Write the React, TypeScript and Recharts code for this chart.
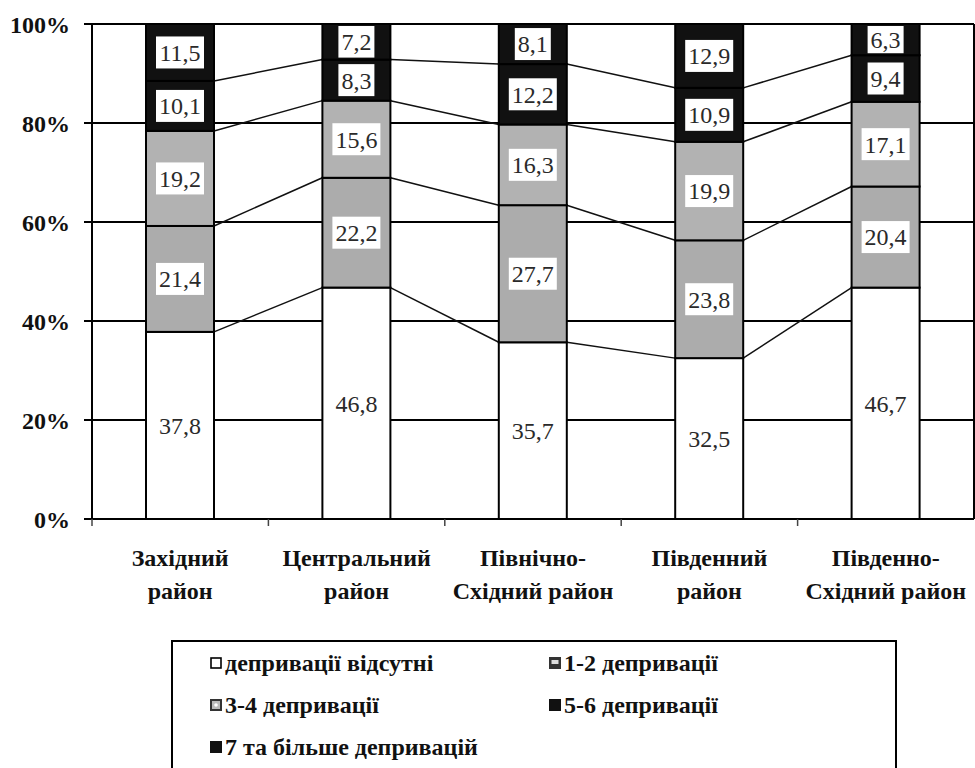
import React from 'react';
import { BarChart, Bar, XAxis, YAxis, CartesianGrid, LabelList, Legend } from 'recharts';

const categoryLines: string[][] = [
  ['Західний', 'район'],
  ['Центральний', 'район'],
  ['Північно-', 'Східний район'],
  ['Південний', 'район'],
  ['Південно-', 'Східний район'],
];
const seriesNames = [
  'депривації відсутні',
  '1-2 депривації',
  '3-4 депривації',
  '5-6 депривації',
  '7 та більше депривацій',
];
const absent = [37.8, 46.8, 35.7, 32.5, 46.7];
const dep12 = [21.4, 22.2, 27.7, 23.8, 20.4];
const dep34 = [19.2, 15.6, 16.3, 19.9, 17.1];
const dep56 = [10.1, 8.3, 12.2, 10.9, 9.4];
const dep7plus = [11.5, 7.2, 8.1, 12.9, 6.3];
const yTicks = [0, 0.2, 0.4, 0.6, 0.8, 1];

const seriesValues = [absent, dep12, dep34, dep56, dep7plus];
const seriesKeys = ['s0', 's1', 's2', 's3', 's4'];
const seriesFills = ['#ffffff', '#acacac', '#b2b2b2', '#111111', '#111111'];

const data = categoryLines.map((lines, i) => {
  const row: any = { name: lines.join(' ') };
  seriesKeys.forEach((k, j) => {
    row[k] = seriesValues[j][i];
  });
  return row;
});

const FONT = '"Liberation Serif", Tinos, "Times New Roman", serif';

const geom: Record<string, Record<number, { x: number; y: number; w: number }>> = {};

const makeShape = (key: string, fill: string, drawLine: boolean) => (props: any) => {
  const { x, y, width, height, index } = props;
  const store = (geom[key] = geom[key] || {});
  store[index] = { x, y, w: width };
  const prev = index > 0 ? store[index - 1] : undefined;
  return (
    <g>
      <rect x={x} y={y} width={width} height={height} fill={fill} stroke="#000" strokeWidth={2} />
      {drawLine && prev ? (
        <line x1={prev.x + prev.w} y1={prev.y} x2={x} y2={y} stroke="#111" strokeWidth={1.5} />
      ) : null}
    </g>
  );
};

const LABEL_FS = 24;
const renderLabel = (props: any) => {
  const { x, y, width, height, value } = props;
  const txt = String(value).replace('.', ',');
  let tw = 0;
  for (const ch of txt) tw += ch === ',' ? 0.25 * LABEL_FS : 0.5 * LABEL_FS;
  const bw = tw + 6;
  const bh = Math.min(32, height - 4);
  const cx = x + width / 2;
  const cy = y + height / 2;
  return (
    <g>
      <rect x={cx - bw / 2} y={cy - bh / 2} width={bw} height={bh} fill="#fff" />
      <text
        x={cx}
        y={cy}
        dy="0.35em"
        textAnchor="middle"
        style={{ fontFamily: FONT }}
        fontSize={LABEL_FS}
        fill="#2a2a2a"
      >
        {txt}
      </text>
    </g>
  );
};

const XTick = (props: any) => {
  const { x, y, index, payload } = props;
  const lines = categoryLines[index] || [];
  const off = payload && typeof payload.offset === 'number' ? payload.offset : 0;
  return (
    <g>
      {off > 0 ? (
        <line x1={x - off} y1={y} x2={x - off} y2={y + 7} stroke="#444" strokeWidth={1.5} />
      ) : null}
      {lines.map((l, i) => (
        <text
          key={i}
          x={x}
          y={y + 47 + i * 33}
          textAnchor="middle"
          style={{ fontFamily: FONT }}
          fontWeight="bold"
          fontSize={24}
          fill="#111"
        >
          {l}
        </text>
      ))}
    </g>
  );
};

const LegendIcon = ({ idx }: { idx: number }) => {
  if (idx === 0)
    return (
      <svg width={12} height={12} style={{ display: 'block' }}>
        <rect x={1} y={1} width={10} height={10} fill="#fff" stroke="#000" strokeWidth={1.6} />
      </svg>
    );
  if (idx === 1)
    return (
      <svg width={12} height={12} style={{ display: 'block' }}>
        <rect x={0} y={0} width={12} height={12} fill="#333" />
        <rect x={2.5} y={3} width={7} height={4} fill="#ddd" />
      </svg>
    );
  if (idx === 2)
    return (
      <svg width={12} height={12} style={{ display: 'block' }}>
        <rect x={0} y={0} width={12} height={12} fill="#333" />
        <rect x={2} y={2} width={8} height={8} fill="#bbb" />
        <circle cx={6} cy={6} r={1.8} fill="#fff" />
      </svg>
    );
  return (
    <svg width={12} height={12} style={{ display: 'block' }}>
      <rect x={0} y={0} width={12} height={12} fill="#111" />
    </svg>
  );
};

const renderLegend = () => {
  const pos = [
    { left: 37, top: 6 },
    { left: 376, top: 6 },
    { left: 37, top: 48 },
    { left: 376, top: 48 },
    { left: 37, top: 90 },
  ];
  return (
    <div
      style={{
        position: 'relative',
        width: 726,
        height: 132,
        boxSizing: 'border-box',
        border: '2px solid #000',
        fontFamily: FONT,
        fontWeight: 'bold',
        fontSize: 24,
        color: '#111',
        background: '#fff',
      }}
    >
      {seriesNames.map((n, i) => (
        <div
          key={i}
          style={{
            position: 'absolute',
            left: pos[i].left,
            top: pos[i].top,
            display: 'flex',
            alignItems: 'center',
            height: 30,
            whiteSpace: 'nowrap',
          }}
        >
          <LegendIcon idx={i} />
          <span style={{ marginLeft: 3 }}>{n}</span>
        </div>
      ))}
    </div>
  );
};

export default function App() {
  return (
    <div
      style={{
        position: 'absolute',
        left: 0,
        top: 0,
        width: 975,
        height: 768,
        background: '#fff',
        overflow: 'hidden',
      }}
    >
      <BarChart
        width={975}
        height={768}
        data={data}
        stackOffset="expand"
        margin={{ top: 24, right: 0, left: 0, bottom: 0 }}
        barSize={68}
      >
        <CartesianGrid horizontal vertical={false} stroke="#000" strokeWidth={2} strokeOpacity={1} />
        <XAxis
          dataKey="name"
          height={117}
          tick={<XTick />}
          tickLine={false}
          tickSize={0}
          tickMargin={0}
          axisLine={{ stroke: '#000', strokeWidth: 2 }}
          interval={0}
        />
        <YAxis
          width={92}
          domain={[0, 1]}
          ticks={yTicks}
          tickFormatter={(v: number) => `${Math.round(v * 100)}%`}
          tickSize={8}
          tickMargin={14}
          tickLine={{ stroke: '#000', strokeWidth: 2 }}
          axisLine={{ stroke: '#000', strokeWidth: 2 }}
          tick={{ style: { fontFamily: FONT }, fontWeight: 'bold', fontSize: 24, fill: '#111' }}
        />
        <YAxis
          yAxisId="right"
          orientation="right"
          width={1}
          domain={[0, 1]}
          tick={false}
          tickLine={false}
          axisLine={{ stroke: '#000', strokeWidth: 2 }}
        />
        {seriesKeys.map((k, j) => (
          <Bar
            key={k}
            dataKey={k}
            name={seriesNames[j]}
            stackId="a"
            fill={seriesFills[j]}
            isAnimationActive={false}
            shape={makeShape(k, seriesFills[j], j < seriesKeys.length - 1)}
          >
            <LabelList dataKey={k} content={renderLabel} />
          </Bar>
        ))}
        <Legend
          verticalAlign="bottom"
          content={renderLegend}
          wrapperStyle={{ position: 'absolute', left: 171, top: 640, width: 726, height: 132 }}
        />
      </BarChart>
    </div>
  );
}
